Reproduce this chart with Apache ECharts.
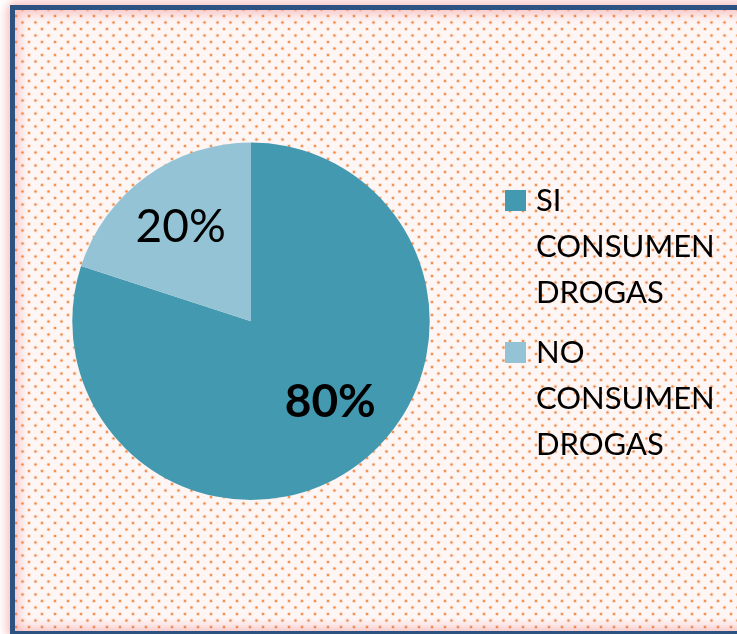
<!DOCTYPE html>
<html>
<head>
<meta charset="utf-8">
<style>
  html, body { margin: 0; padding: 0; background: #ffffff; }
  #chart { width: 737px; height: 634px; }
</style>
<script src="https://cdn.jsdelivr.net/npm/echarts@6/dist/echarts.min.js"></script>
</head>
<body>
<div id="chart"></div>
<script>
// Survey answers: share of respondents who consume drugs
const categories = ['SI CONSUMEN DROGAS', 'NO CONSUMEN DROGAS'];
const shares = [80, 20];
const sliceColors = ['#4399B0', '#93C3D5'];

// Small dotted tile used as the chart-area fill
function dotTile() {
  const c = document.createElement('canvas');
  const s = 13;
  c.width = s; c.height = s;
  const g = c.getContext('2d');
  const dots = [[3, 3], [9.5, 9.5]];
  dots.forEach(([x, y]) => {
    g.fillStyle = 'rgba(244,160,100,0.35)';
    g.beginPath(); g.arc(x, y, 2.0, 0, Math.PI * 2); g.fill();
    g.fillStyle = 'rgba(236,122,45,0.9)';
    g.beginPath(); g.arc(x, y, 1.1, 0, Math.PI * 2); g.fill();
  });
  return c;
}

const chart = echarts.init(document.getElementById('chart'), null, { renderer: 'canvas' });

const labelOffsets = [[25, 6], [-16, -19]];
const labelWeights = ['bold', 'normal'];

chart.setOption({
  backgroundColor: '#ffffff',
  animation: false,
  graphic: [{
    type: 'rect',
    z: -10,
    silent: true,
    shape: { x: 12.5, y: 7.5, width: 740, height: 626 },
    style: {
      fill: { image: dotTile(), repeat: 'repeat' },
      stroke: '#2C5282',
      lineWidth: 5,
      shadowColor: 'rgba(238,110,110,0.95)',
      shadowBlur: 12
    }
  }],
  legend: {
    orient: 'vertical',
    left: 505,
    top: 85.5,
    padding: 0,
    itemGap: -78,
    itemWidth: 21,
    itemHeight: 21,
    icon: 'rect',
    data: categories,
    // two blank lines above keep the first word level with the swatch
    formatter: name => '\n\n' + name.split(' ').join('\n'),
    textStyle: {
      fontFamily: 'Lato',
      fontSize: 31,
      color: '#000000',
      lineHeight: 46,
      padding: [0, 0, 0, 5]
    }
  },
  series: [{
    type: 'pie',
    center: [251, 321.3],
    radius: 178.7,
    startAngle: 90,
    clockwise: true,
    label: {
      show: true,
      position: 'inside',
      fontFamily: 'Lato',
      fontSize: 46,
      color: '#000000',
      formatter: p => p.value + '%'
    },
    labelLine: { show: false },
    itemStyle: { borderWidth: 0 },
    emphasis: { disabled: true },
    data: categories.map((name, i) => ({
      name: name,
      value: shares[i],
      itemStyle: { color: sliceColors[i] },
      label: { offset: labelOffsets[i], fontWeight: labelWeights[i] }
    }))
  }]
});
</script>
</body>
</html>
